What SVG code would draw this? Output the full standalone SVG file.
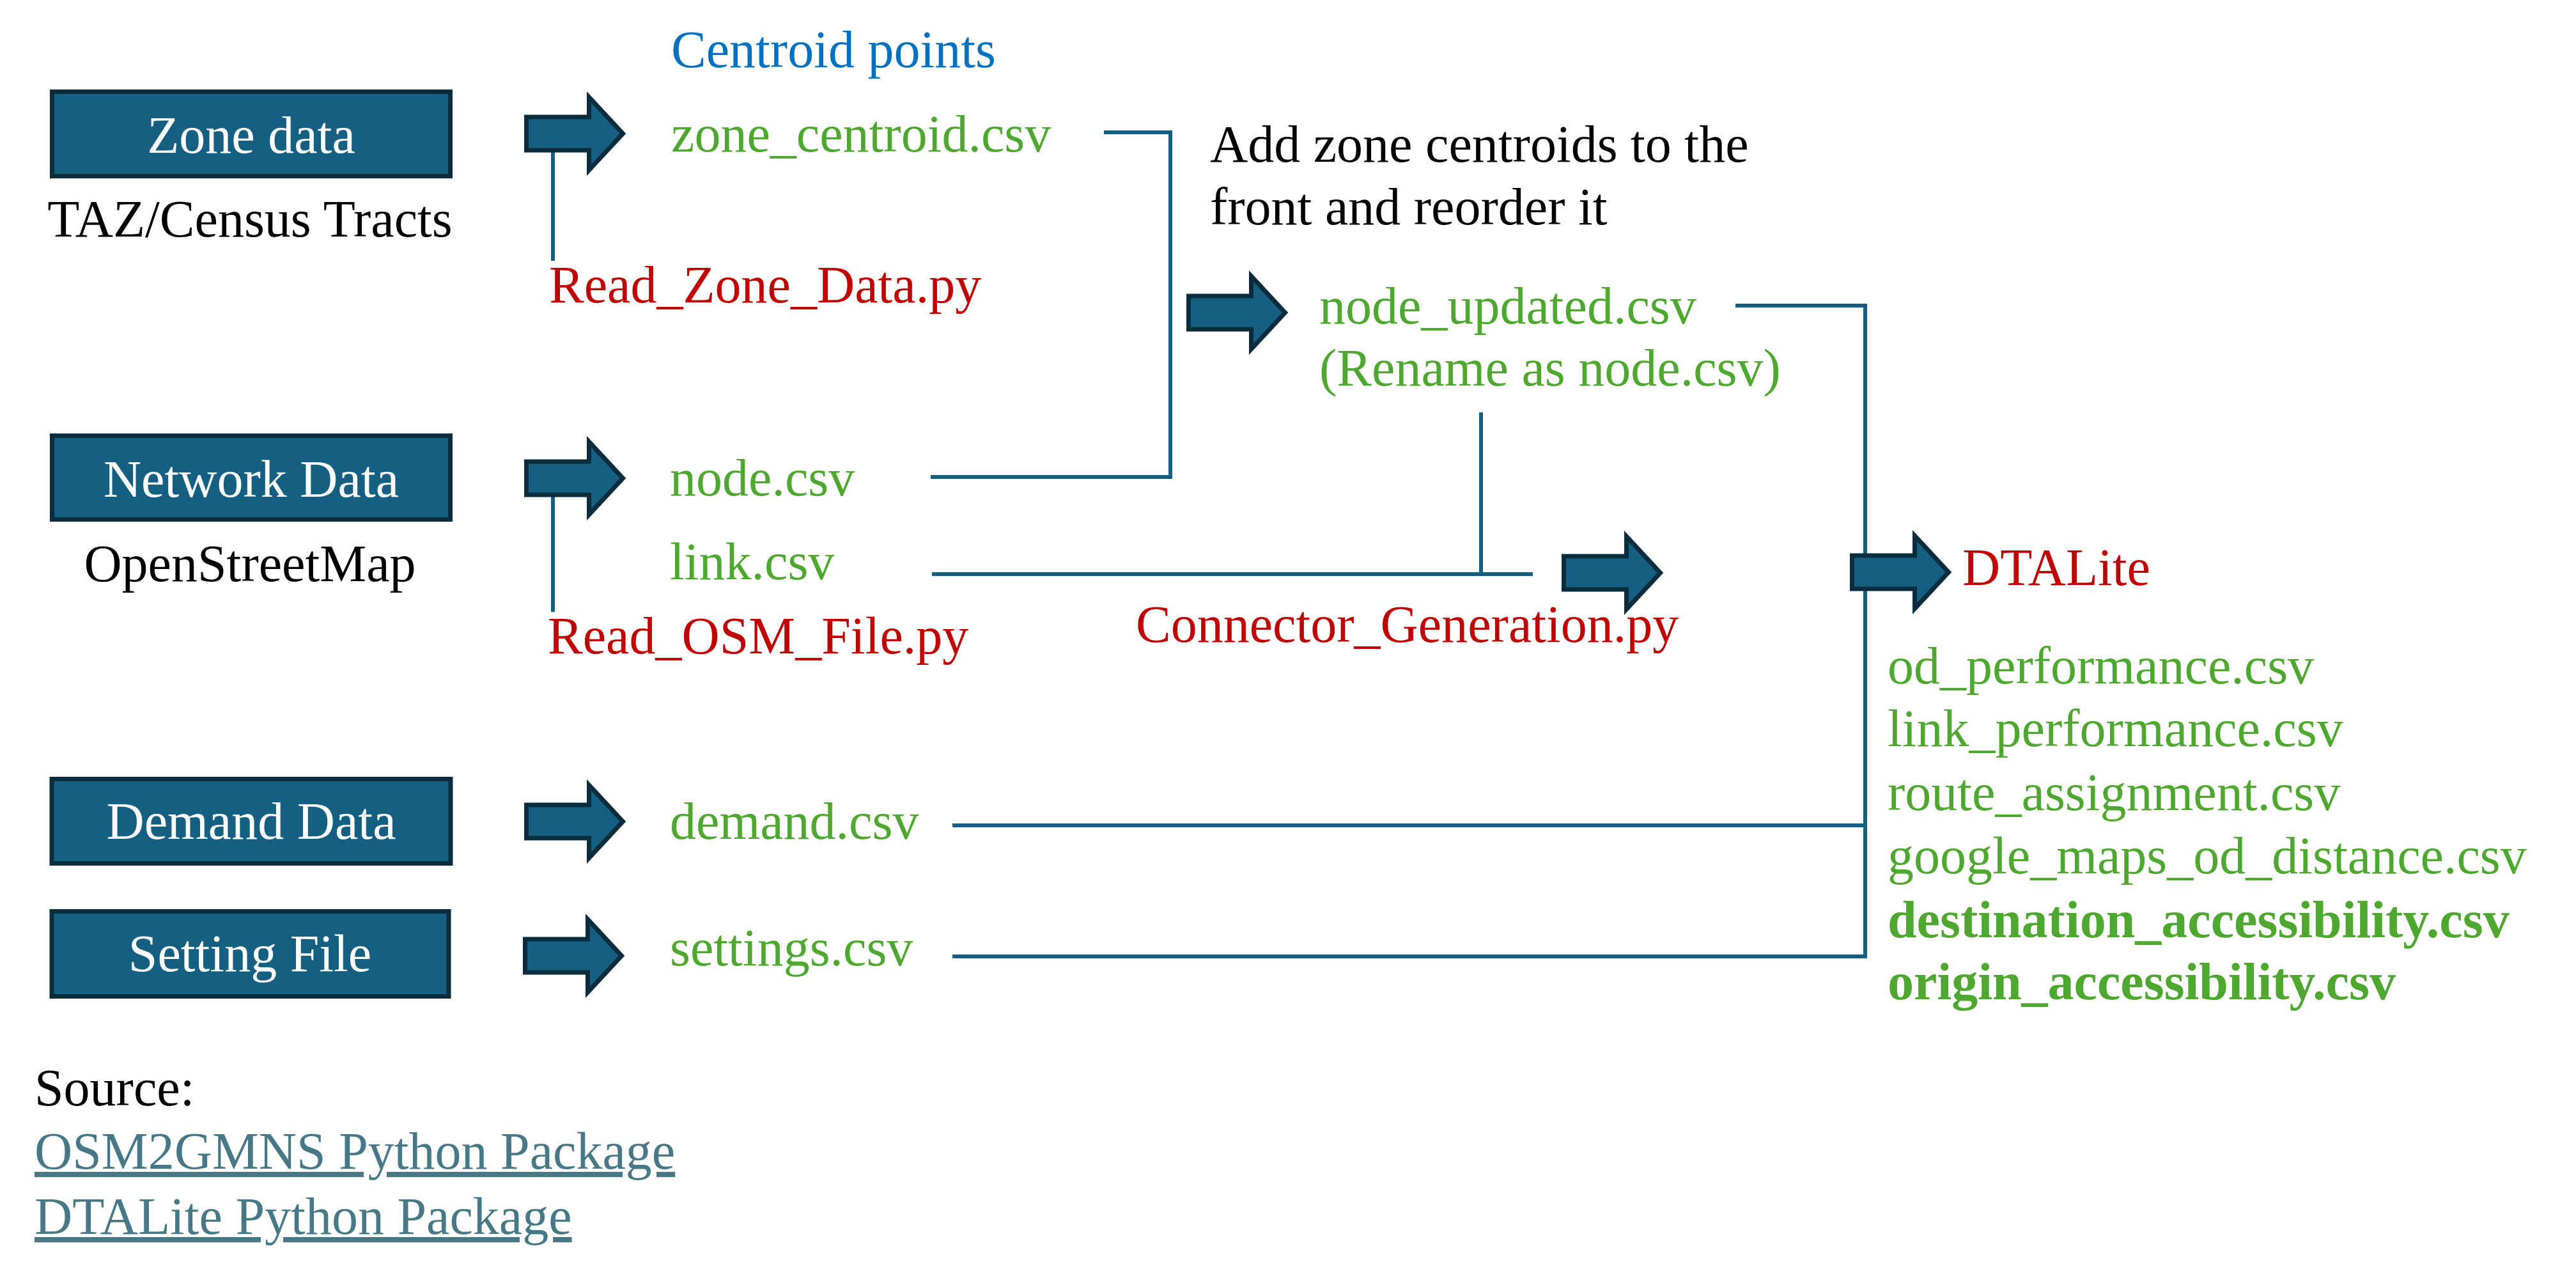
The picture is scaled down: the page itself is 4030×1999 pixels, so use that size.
<svg xmlns="http://www.w3.org/2000/svg" xmlns:xlink="http://www.w3.org/1999/xlink" width="4030" height="1999" viewBox="0 0 4030 1999">
<style>
text { font-family: "Liberation Serif", "Times New Roman", serif; font-size: 82px; }
.box { fill: #156082; stroke: #0A2C3D; stroke-width: 7; }
.bl { fill: #FFFFFF; text-anchor: middle; }
.arr { fill: #156082; stroke: #0A2C3D; stroke-width: 7; stroke-linejoin: miter; }
.g { fill: #4EA72E; }
.r { fill: #C00000; }
.b { fill: #0070C0; }
.k { fill: #000000; }
.gb { fill: #4EA72E; font-weight: bold; }
.lnk { fill: #467886; text-decoration: underline; }
.ln { fill: none; stroke: #156082; stroke-width: 6; }
</style>
<defs>
<path id="arrow" d="M0,-26 H98 V-57 L151,0 L98,57 V26 H0 Z"/>
</defs>
<rect width="4030" height="1999" fill="#FFFFFF"/>

<g id="connectors">
<line class="ln" x1="865" y1="236" x2="865" y2="408"/>
<line class="ln" x1="865" y1="775" x2="865" y2="957"/>
<polyline class="ln" points="1727,207 1831,207 1831,746 1456,746"/>
<line class="ln" x1="1458" y1="898" x2="2398" y2="898"/>
<line class="ln" x1="2317" y1="645" x2="2317" y2="898"/>
<polyline class="ln" points="2715,478 2918,478 2918,1496 1490,1496"/>
<line class="ln" x1="1490" y1="1291" x2="2918" y2="1291"/>
</g>

<g id="zone-data">
<rect class="box" x="81.5" y="143.5" width="623" height="132"/>
<text class="bl" x="393" y="239">Zone data</text>
<text class="k" x="391" y="370" text-anchor="middle">TAZ/Census Tracts</text>
</g>
<g id="network-data">
<rect class="box" x="81.5" y="681.5" width="623" height="131"/>
<text class="bl" x="393" y="777">Network Data</text>
<text class="k" x="391" y="909" text-anchor="middle">OpenStreetMap</text>
</g>
<g id="demand-data">
<rect class="box" x="81" y="1218.5" width="624" height="132"/>
<text class="bl" x="393" y="1312">Demand Data</text>
</g>
<g id="setting-file">
<rect class="box" x="81" y="1425.5" width="621" height="133"/>
<text class="bl" x="391" y="1519">Setting File</text>
</g>

<g id="arrows">
<use href="#arrow" xlink:href="#arrow" class="arr" x="823.5" y="209"/>
<use href="#arrow" xlink:href="#arrow" class="arr" x="823.5" y="748"/>
<use href="#arrow" xlink:href="#arrow" class="arr" x="823.5" y="1285"/>
<use href="#arrow" xlink:href="#arrow" class="arr" x="821.5" y="1495"/>
<use href="#arrow" xlink:href="#arrow" class="arr" x="1859.5" y="489"/>
<use href="#arrow" xlink:href="#arrow" class="arr" x="2446.5" y="896"/>
<use href="#arrow" xlink:href="#arrow" class="arr" x="2897.5" y="895"/>
</g>

<g id="zone-centroid">
<text class="b" x="1050" y="105">Centroid points</text>
<text class="g" x="1050" y="237">zone_centroid.csv</text>
<text class="r" x="859" y="473">Read_Zone_Data.py</text>
</g>
<g id="network-files">
<text class="g" x="1048" y="775">node.csv</text>
<text class="g" x="1048" y="906">link.csv</text>
<text class="r" x="857" y="1022">Read_OSM_File.py</text>
</g>
<g id="node-updated">
<text class="k" x="1893" y="253">Add zone centroids to the</text>
<text class="k" x="1893" y="351">front and reorder it</text>
<text class="g" x="2064" y="506">node_updated.csv</text>
<text class="g" x="2064" y="603">(Rename as node.csv)</text>
</g>
<g id="connector-generation">
<text class="r" x="1777" y="1004">Connector_Generation.py</text>
</g>
<g id="demand-file">
<text class="g" x="1048" y="1312">demand.csv</text>
</g>
<g id="settings-file">
<text class="g" x="1048" y="1510">settings.csv</text>
</g>
<g id="dtalite">
<text class="r" x="3070" y="915">DTALite</text>
<text class="g" x="2953" y="1069">od_performance.csv</text>
<text class="g" x="2953" y="1167">link_performance.csv</text>
<text class="g" x="2953" y="1267">route_assignment.csv</text>
<text class="g" x="2953" y="1366">google_maps_od_distance.csv</text>
<text class="gb" x="2953" y="1466">destination_accessibility.csv</text>
<text class="gb" x="2953" y="1563">origin_accessibility.csv</text>
</g>
<g id="source">
<text class="k" x="54" y="1729">Source:</text>
<text class="lnk" x="54" y="1828">OSM2GMNS Python Package</text>
<text class="lnk" x="54" y="1930">DTALite Python Package</text>
</g>
</svg>
